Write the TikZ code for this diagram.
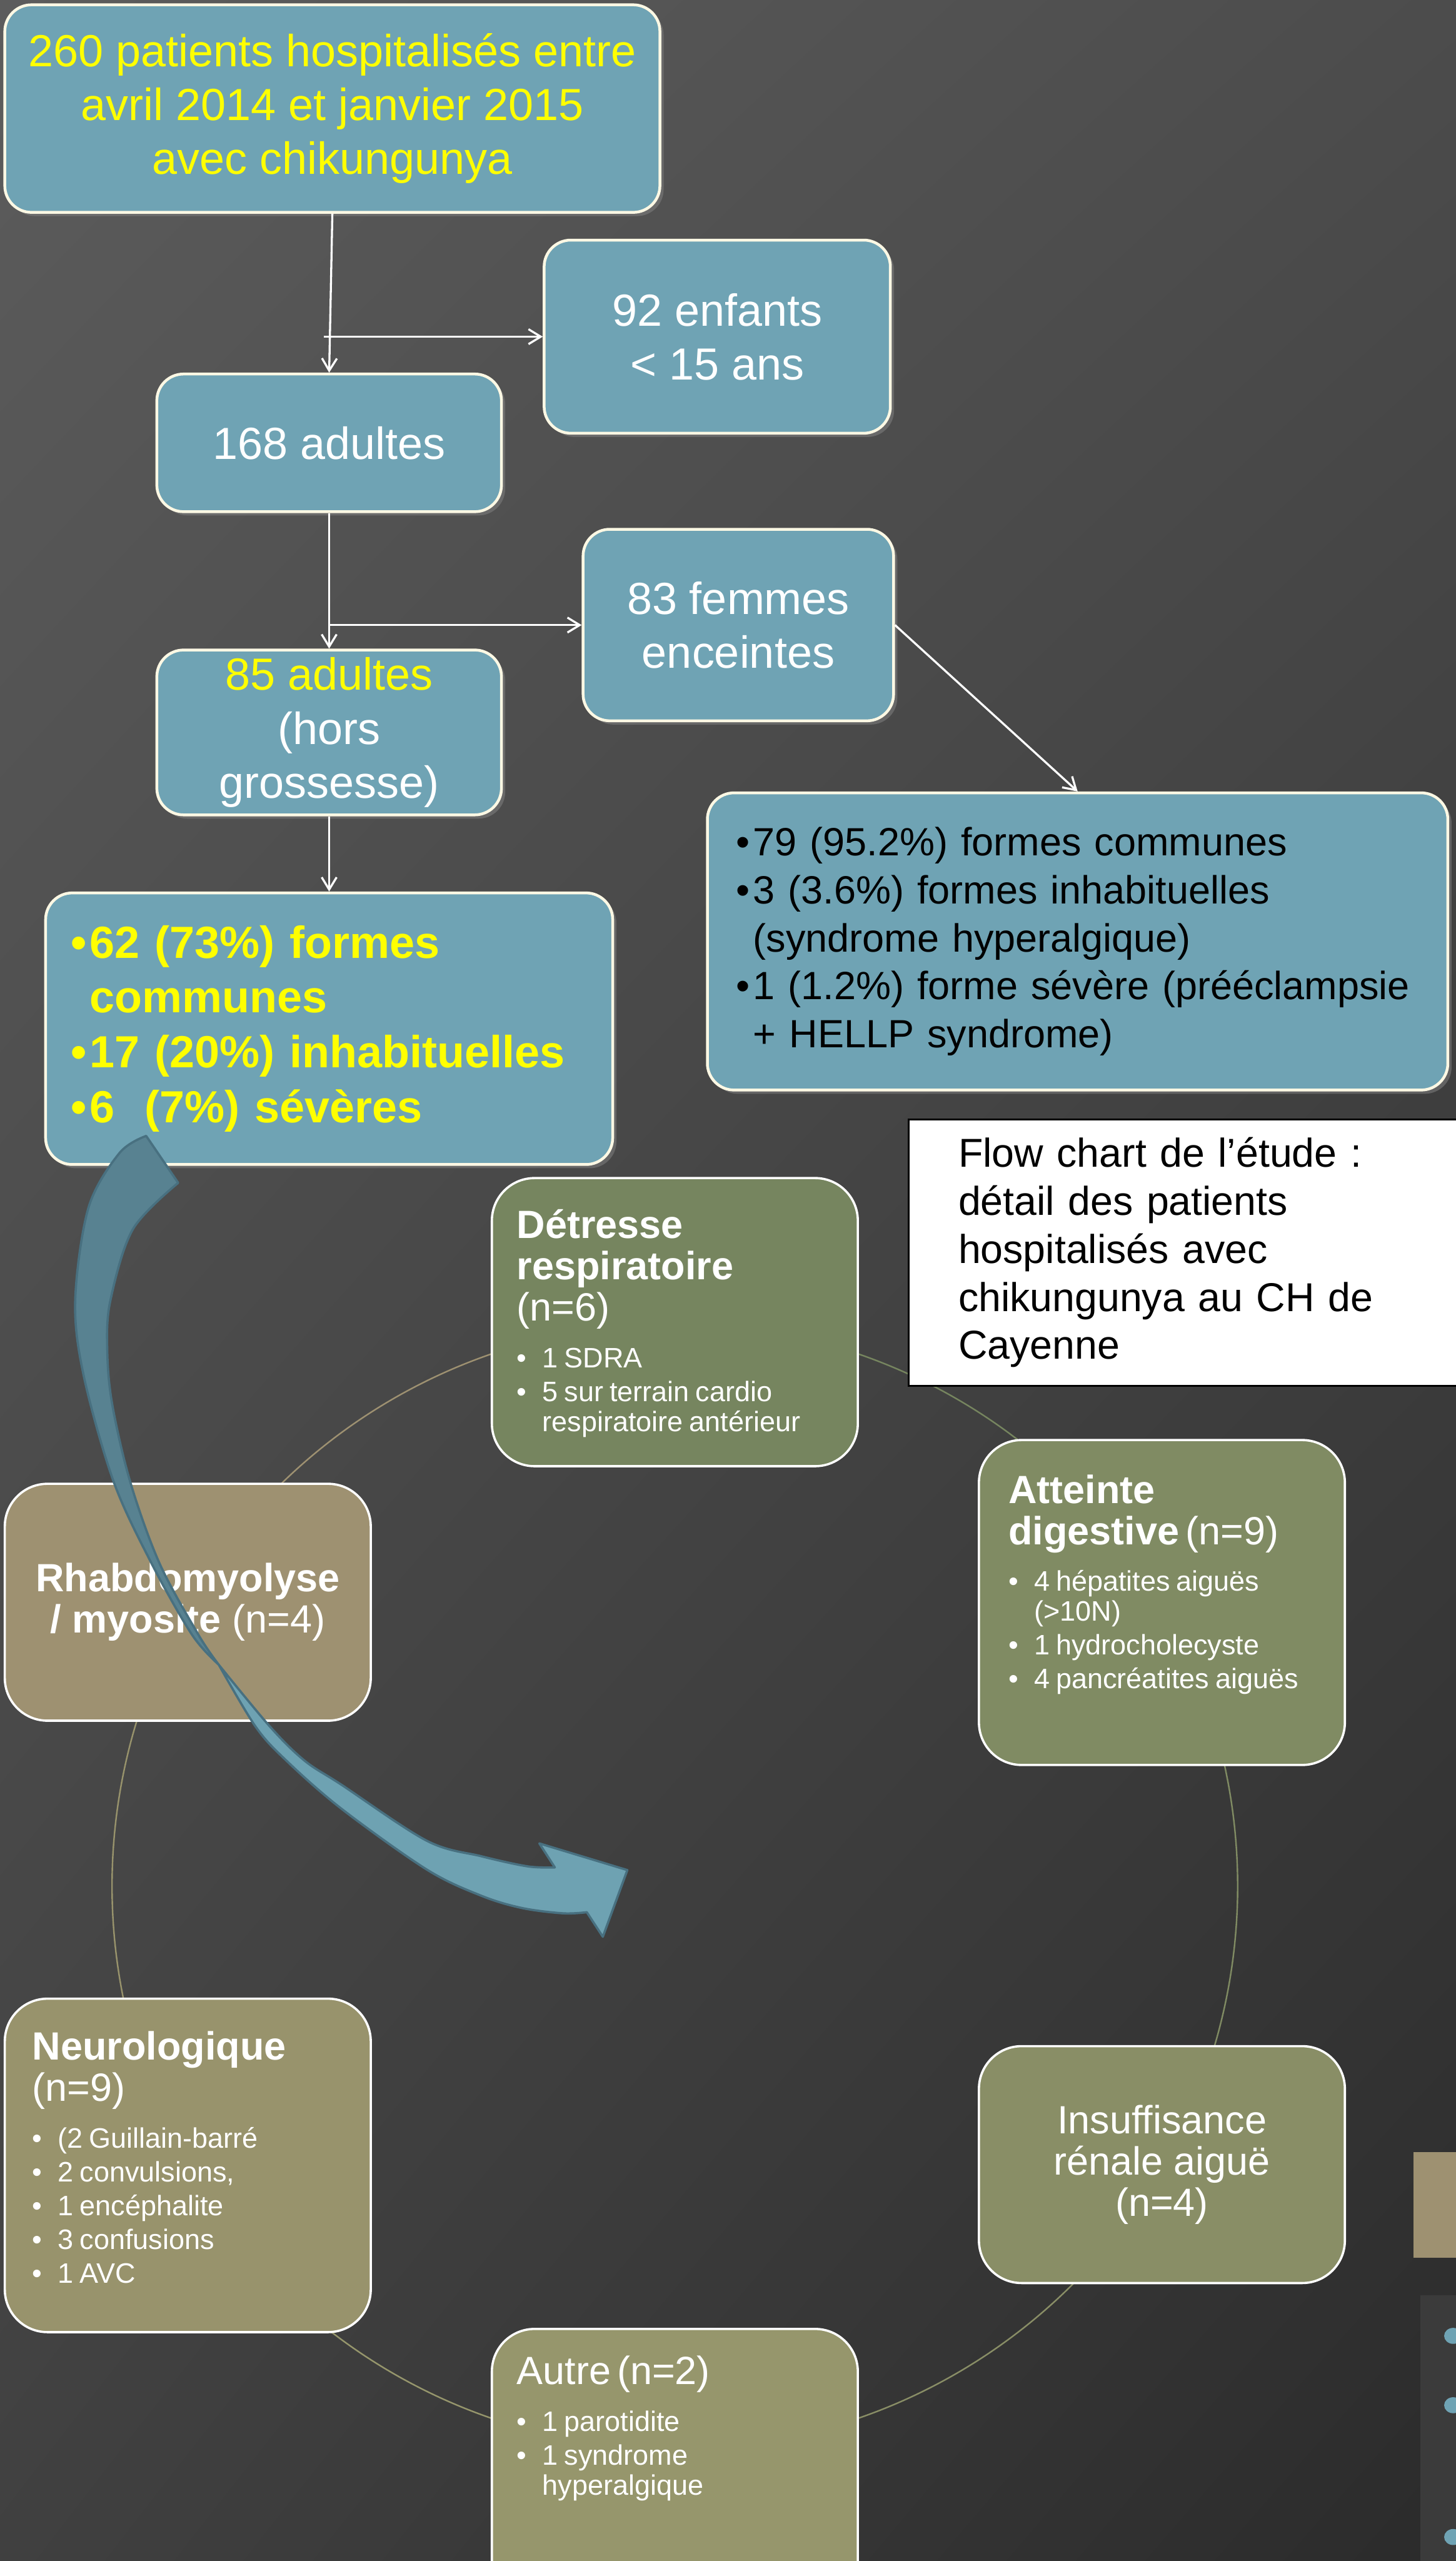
\documentclass[tikz,border=0pt]{standalone}
\usepackage{fontspec}
\setmainfont{Liberation Sans}
\usepackage{xcolor}
\usepackage{tikz}
\usetikzlibrary{arrows.meta, positioning, calc, shadows, shadings}
\definecolor{flowTeal}{RGB}{111, 163, 180}
\definecolor{flowEdge}{RGB}{252, 248, 228}
\definecolor{flowYellow}{RGB}{255, 255, 0}
\definecolor{bgTopLeft}{RGB}{92, 92, 92}
\definecolor{bgTopRight}{RGB}{76, 76, 76}
\definecolor{bgBottomLeft}{RGB}{64, 64, 64}
\definecolor{bgBottomRight}{RGB}{43, 43, 43}
\definecolor{cycGreen}{RGB}{118, 133, 95}
\definecolor{cycMoss}{RGB}{128, 139, 99}
\definecolor{cycOlive}{RGB}{137, 142, 102}
\definecolor{cycKhaki}{RGB}{150, 150, 108}
\definecolor{cycSand}{RGB}{152, 147, 108}
\definecolor{cycTan}{RGB}{158, 145, 113}
\definecolor{arrowLight}{RGB}{110, 162, 178}
\definecolor{arrowDark}{RGB}{88, 130, 145}
\definecolor{arrowEdge}{RGB}{72, 112, 128}
\definecolor{slideGray}{RGB}{59, 59, 59}
\setlength{\parindent}{0pt}
\newcommand{\bul}[1]{\makebox[#1][l]{•}}
\newcommand{\cycHead}[1]{{\fontsize{21}{22}\selectfont #1\par}\vspace{7pt}}
\newcommand{\cycItem}[1]{{\fontsize{15}{16}\selectfont\vspace{2pt}\hangindent=0.48cm\hangafter=1\noindent\bul{0.48cm}#1\par}}

\begin{document}
\begin{tikzpicture}[
    flowBox/.style={draw=flowEdge, line width=1.5pt, fill=flowTeal, rounded corners=0.5cm, text=white, font=\fontsize{24}{28.7}\selectfont, align=center, inner sep=2pt, drop shadow={opacity=0.55, shadow xshift=0.07cm, shadow yshift=-0.07cm}},
    noteBox/.style={draw=black, fill=white, line width=1pt, text=black, font=\fontsize{21.5}{25.6}\selectfont, align=left, inner sep=0pt},
    cycBox/.style={draw=white, line width=1.2pt, rounded corners=0.8cm, minimum width=6.86cm},
    cycText/.style={anchor=north west, inner sep=0pt, text=white, text width=6.2cm, align=left},
    cycArc/.style={line width=0.8pt},
    flowArrow/.style={draw=white, line width=1.1pt, -{Straight Barb[length=2.3mm, width=2.8mm]}},
    ribbon/.style={draw=arrowEdge, line width=1.2pt, line join=round}
]

% Slide background
\useasboundingbox (0,0) rectangle (27.29,-48);
\clip (0,0) rectangle (27.29,-48);
\shade[upper left=bgTopLeft, upper right=bgTopRight, lower left=bgBottomLeft, lower right=bgBottomRight] (0,0) rectangle (27.29,-48);

% Cycle of severe forms
\coordinate (cycCenter) at (12.65,-35.35);
\draw[cycArc, draw=cycTan] ([shift={(150:10.55)}]cycCenter) arc[start angle=150, end angle=90, radius=10.55];
\draw[cycArc, draw=cycGreen] ([shift={(90:10.55)}]cycCenter) arc[start angle=90, end angle=30, radius=10.55];
\draw[cycArc, draw=cycMoss] ([shift={(30:10.55)}]cycCenter) arc[start angle=30, end angle=-30, radius=10.55];
\draw[cycArc, draw=cycOlive] ([shift={(-30:10.55)}]cycCenter) arc[start angle=-30, end angle=-90, radius=10.55];
\draw[cycArc, draw=cycKhaki] ([shift={(-90:10.55)}]cycCenter) arc[start angle=-90, end angle=-150, radius=10.55];
\draw[cycArc, draw=cycSand] ([shift={(-150:10.55)}]cycCenter) arc[start angle=-150, end angle=-210, radius=10.55];

\node[cycBox, fill=cycGreen, minimum height=5.40cm] (detresse) at (12.65,-24.78) {};
\node[cycText] (detresseTxt) at (9.68,-22.66) {\cycHead{\textbf{Détresse}\\\textbf{respiratoire}\\(n=6)}\cycItem{1 SDRA}\cycItem{5 sur terrain cardio\newline respiratoire antérieur}};

\node[cycBox, fill=cycMoss, minimum height=6.09cm] (atteinte) at (21.78,-30.035) {};
\node[cycText] (atteinteTxt) at (18.90,-27.63) {\cycHead{\textbf{Atteinte}\\\textbf{digestive} (n=9)}\cycItem{4 hépatites aiguës\newline (>10N)}\cycItem{1 hydrocholecyste}\cycItem{4 pancréatites aiguës}};

\node[cycBox, fill=cycOlive, minimum height=4.44cm, align=center, text=white, font=\fontsize{21}{22}\selectfont] (insuff) at (21.78,-40.57) {Insuffisance\\rénale aiguë\\(n=4)};

\node[cycBox, fill=cycKhaki, minimum height=5.40cm] (autre) at (12.65,-46.35) {};
\node[cycText] (autreTxt) at (9.68,-44.15) {\cycHead{Autre (n=2)}\cycItem{1 parotidite}\cycItem{1 syndrome\newline hyperalgique}};

\node[cycBox, fill=cycSand, minimum height=6.25cm] (neuro) at (3.52,-40.585) {};
\node[cycText] (neuroTxt) at (0.60,-38.07) {\cycHead{\textbf{Neurologique}\\(n=9)}\cycItem{(2 Guillain-barré}\cycItem{2 convulsions,}\cycItem{1 encéphalite}\cycItem{3 confusions}\cycItem{1 AVC}};

\node[cycBox, fill=cycTan, minimum height=4.44cm, align=center, text=white, font=\fontsize{21}{22}\selectfont] (rhabdo) at (3.52,-30.03) {\textbf{Rhabdomyolyse}\\\textbf{/ myosite} (n=4)};

% Edge of the next slide
\fill[cycTan] (26.50,-40.33) rectangle (27.40,-42.32);
\fill[slideGray] (26.63,-43.02) rectangle (27.40,-48.10);
\fill[flowTeal] (27.24,-43.78) ellipse [x radius=0.17cm, y radius=0.15cm];
\fill[flowTeal] (27.24,-45.08) ellipse [x radius=0.17cm, y radius=0.15cm];
\fill[flowTeal] (27.24,-47.55) ellipse [x radius=0.17cm, y radius=0.15cm];

% Flow chart
\node[flowBox, minimum width=12.28cm, minimum height=3.89cm, text=flowYellow] (patients) at (6.23,-2.035) {260 patients hospitalisés entre\\avril 2014 et janvier 2015\\avec chikungunya};
\node[flowBox, minimum width=6.49cm, minimum height=3.62cm] (enfants) at (13.445,-6.31) {92 enfants\\< 15 ans};
\node[flowBox, minimum width=6.46cm, minimum height=2.58cm] (adults168) at (6.17,-8.30) {168 adultes};
\node[flowBox, minimum width=5.82cm, minimum height=3.59cm] (femmes) at (13.84,-11.715) {83 femmes\\enceintes};
\node[flowBox, minimum width=6.46cm, minimum height=3.09cm, below=2.54cm of adults168] (adults85) {\textcolor{flowYellow}{85 adultes}\\(hors\\grossesse)};
\node[flowBox, minimum width=10.63cm, minimum height=5.09cm, text width=9.68cm, align=left, text=flowYellow, font=\fontsize{24}{29.3}\selectfont\bfseries, below=1.41cm of adults85] (listLeft) {\bul{0.35cm}62 (73\%) formes\\\hspace*{0.35cm}communes\\\bul{0.35cm}17 (20\%) inhabituelles\\\bul{0.35cm}6\ \ (7\%) sévères};
\node[flowBox, minimum width=13.88cm, minimum height=5.57cm, text width=12.8cm, align=left, text=black, font=\fontsize{21}{25.6}\selectfont] (listRight) at (20.20,-17.645) {\bul{0.32cm}79 (95.2\%) formes communes\\\bul{0.32cm}3 (3.6\%) formes inhabituelles\\\hspace*{0.32cm}(syndrome hyperalgique)\\\bul{0.32cm}1 (1.2\%) forme sévère (prééclampsie\\\hspace*{0.32cm}+ HELLP syndrome)};

\draw[flowArrow] (patients.south) -- (adults168.north);
\draw[flowArrow] ($(adults168.north |- enfants.west)+(-0.1,0)$) -- (enfants.west);
\draw[flowArrow] (adults168.south) -- (adults85.north);
\draw[flowArrow] (adults168.south |- femmes.west) -- (femmes.west);
\draw[flowArrow] (adults85.south) -- (listLeft.north);
\draw[flowArrow] (femmes.east) -- (listRight.north);

% Study caption
\node[noteBox, minimum width=10.57cm, minimum height=4.99cm, text width=8.7cm] (studyNote) at (22.315,-23.475) {Flow chart de l’étude :\\détail des patients\\hospitalisés avec\\chikungunya au CH de\\Cayenne};

% Severe forms arrow
\filldraw[ribbon, fill=arrowDark] (2.74,-21.29) -- plot[smooth, tension=0.55] coordinates {(2.74,-21.29) (2.24,-21.61) (1.66,-22.63) (1.41,-24.37) (1.57,-25.79) (2.13,-27.77) (2.84,-29.30) (3.60,-30.64) (4.10,-31.20)} -- plot[smooth, tension=0.55] coordinates {(4.10,-31.20) (3.72,-30.64) (2.99,-29.30) (2.44,-27.77) (2.10,-26.30) (2.01,-25.28) (2.07,-24.37) (2.49,-23.04) (3.34,-22.17)} -- cycle;
\filldraw[ribbon, fill=arrowLight] (4.10,-31.20) -- plot[smooth, tension=0.55] coordinates {(4.10,-31.20) (5.06,-32.36) (5.71,-33.00) (6.40,-33.45) (8.00,-34.50) (9.02,-34.79) (9.89,-34.98) (10.40,-35.00)} -- (10.11,-34.55) -- (11.76,-35.05) -- (11.30,-36.30) -- (11.00,-35.84) -- plot[smooth, tension=0.55] coordinates {(11.00,-35.84) (10.55,-35.86) (9.78,-35.76) (9.02,-35.53) (8.00,-35.04) (6.40,-33.90) (5.37,-33.00) (4.79,-32.36) (4.10,-31.20)} -- cycle;

\end{tikzpicture}
\end{document}
